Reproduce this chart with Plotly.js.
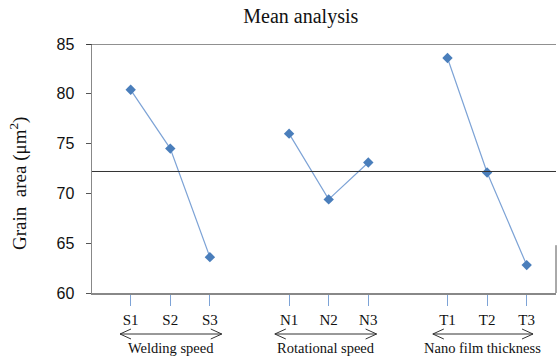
<!DOCTYPE html>
<html><head><meta charset="utf-8">
<script src="https://cdn.plot.ly/plotly-3.0.1.min.js"></script>
<style>body{margin:0;padding:0;background:#fff}#c{width:557px;height:358px}</style>
</head><body><div id="c"></div>
<script>
// Data
var weldLabels = ["S1","S2","S3"];
var weldPos = [0,1,2];
var weldVals = [80.4, 74.5, 63.6];
var rotLabels = ["N1","N2","N3"];
var rotPos = [4,5,6];
var rotVals = [76.0, 69.4, 73.1];
var thkLabels = ["T1","T2","T3"];
var thkPos = [8,9,10];
var thkVals = [83.6, 72.1, 62.8];
var groupNames = ["Welding speed","Rotational speed","Nano film thickness"];
var overallMean = 72.2;
var yTicks = [60,65,70,75,80,85];

var lineColor = "#7da3d6";
var markerColor = "#4a7ebb";
var serif = "Liberation Serif, Times New Roman, serif";
function tr(x,y){
  return {x:x,y:y,type:"scatter",mode:"lines+markers",
    line:{color:lineColor,width:1.2},
    marker:{symbol:"diamond",size:8,color:markerColor},
    showlegend:false,hoverinfo:"skip",cliponaxis:false};
}
var data=[tr(weldPos,weldVals),tr(rotPos,rotVals),tr(thkPos,thkVals)];

var groups=[[weldPos,groupNames[0],-0.27,0.30],[rotPos,groupNames[1],-0.36,0.21],[thkPos,groupNames[2],-0.37,0.16]];
var shapes=[
  {type:"line",xref:"paper",yref:"y",x0:0,x1:1,y0:overallMean,y1:overallMean,line:{color:"#333",width:1}},
  {type:"line",xref:"paper",yref:"y",x0:-0.012,x1:1,y0:85,y1:85,line:{color:"#222",width:1}},
  {type:"line",xref:"paper",yref:"y",x0:1,x1:1,y0:60,y1:64.8,line:{color:"#555",width:1}}
];
var annotations=[];
var pxX=1/39.6, pxY=1/249;
var ay=-(334-293)*pxY;
groups.forEach(function(g){
  var a=g[0][0]+g[2], b=g[0][g[0].length-1]+g[3];
  var hx=11*pxX, hy=5*pxY;
  shapes.push({type:"line",xref:"x",yref:"paper",x0:a,x1:b,y0:ay,y1:ay,line:{color:"#333",width:1}});
  shapes.push({type:"path",xref:"x",yref:"paper",path:"M"+(a+hx)+","+(ay+hy)+" L"+a+","+ay+" L"+(a+hx)+","+(ay-hy),line:{color:"#333",width:1}});
  shapes.push({type:"path",xref:"x",yref:"paper",path:"M"+(b-hx)+","+(ay+hy)+" L"+b+","+ay+" L"+(b-hx)+","+(ay-hy),line:{color:"#333",width:1}});
  annotations.push({xref:"x",yref:"paper",x:(a+b)/2,y:-(348-293)*pxY,text:g[1],showarrow:false,
    font:{family:serif,size:14.5,color:"#111"},xanchor:"center",yanchor:"middle"});
});
annotations.push({xref:"paper",yref:"paper",x:(18-92)/464,y:(293-184)/249,text:"Grain  area (μm<sup>2</sup>)",
  textangle:-90,showarrow:false,xanchor:"center",yanchor:"middle",font:{family:serif,size:19,color:"#111"}});

var layout={
  width:557,height:358,
  margin:{l:92,r:1,t:44,b:65},
  paper_bgcolor:"#fff",plot_bgcolor:"#fff",
  title:{text:"Mean analysis",x:0.54,xanchor:"center",y:0.955,yanchor:"middle",font:{family:serif,size:20,color:"#111"}},
  xaxis:{range:[-0.977,10.74],showgrid:false,zeroline:false,showline:true,linecolor:"#888",linewidth:1.5,
    tickvals:weldPos.concat(rotPos,thkPos),ticktext:weldLabels.concat(rotLabels,thkLabels),
    ticks:"outside",ticklen:11,tickcolor:lineColor,tickwidth:1,ticklabelstandoff:1,
    tickfont:{family:serif,size:15,color:"#111"}},
  yaxis:{range:[60,85],showgrid:false,zeroline:false,showline:true,linecolor:"#888",linewidth:1.5,
    tickvals:yTicks,ticks:"outside",ticklen:5,tickcolor:"#555",ticklabelstandoff:8,
    tickfont:{family:"Liberation Sans, Arial, sans-serif",size:16,color:"#111"}},
  shapes:shapes,annotations:annotations
};
Plotly.newPlot("c",data,layout,{staticPlot:true,displayModeBar:false});
</script></body></html>
